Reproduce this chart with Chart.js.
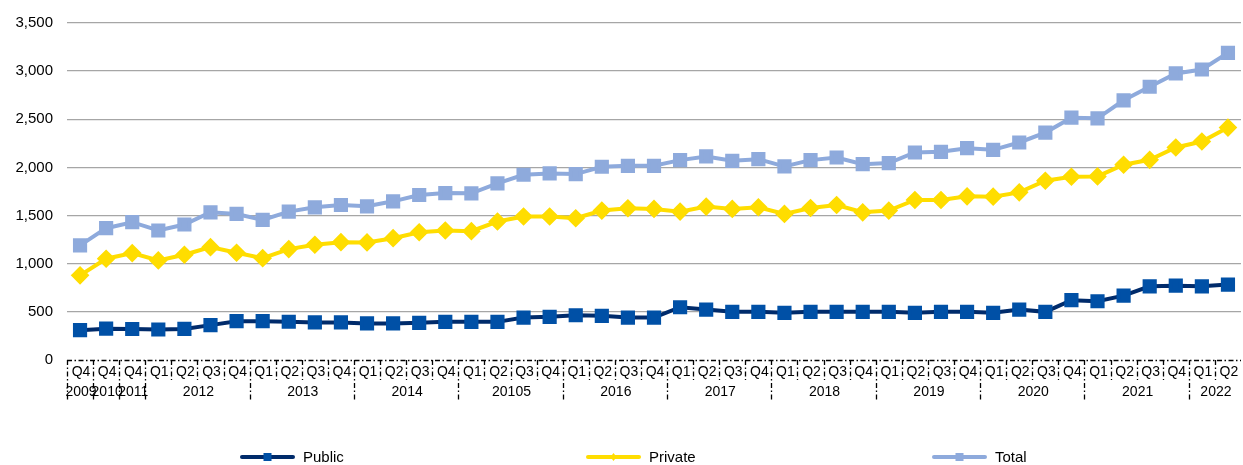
<!DOCTYPE html>
<html>
<head>
<meta charset="utf-8">
<script src="https://cdn.jsdelivr.net/npm/chart.js@4/dist/chart.umd.min.js"></script>
<style>
  html, body { margin: 0; padding: 0; background: #fff; }
  #wrap { width: 1243px; height: 465px; position: relative; }
</style>
</head>
<body>
<div id="wrap"><canvas id="c" width="1243" height="465"></canvas></div>
<script>
// ---- Data ----
const quarters = ['Q4','Q4','Q4',
  'Q1','Q2','Q3','Q4', 'Q1','Q2','Q3','Q4', 'Q1','Q2','Q3','Q4', 'Q1','Q2','Q3','Q4',
  'Q1','Q2','Q3','Q4', 'Q1','Q2','Q3','Q4', 'Q1','Q2','Q3','Q4', 'Q1','Q2','Q3','Q4',
  'Q1','Q2','Q3','Q4', 'Q1','Q2','Q3','Q4', 'Q1','Q2'];
const years = ['2009','2010','2011',
  '2012','2012','2012','2012', '2013','2013','2013','2013', '2014','2014','2014','2014',
  '20105','20105','20105','20105', '2016','2016','2016','2016', '2017','2017','2017','2017',
  '2018','2018','2018','2018', '2019','2019','2019','2019', '2020','2020','2020','2020',
  '2021','2021','2021','2021', '2022','2022'];
const publicValues = [310,325,322,317,323,362,403,403,397,390,
  390,380,380,386,396,396,396,441,448,465,
  459,441,441,548,524,500,500,490,500,500,
  500,500,490,500,500,490,524,500,621,610,
  669,765,772,765,783];
const privateValues = [879,1052,1110,1034,1093,1172,1114,1058,1152,1197,
  1224,1221,1265,1327,1345,1338,1438,1490,1490,1472,
  1552,1576,1569,1541,1593,1569,1586,1517,1579,1610,
  1534,1552,1662,1662,1700,1696,1741,1862,1903,1907,
  2028,2079,2207,2269,2414];
const totalValues = [1190,1369,1431,1345,1407,1534,1517,1455,1541,1586,
  1610,1596,1648,1714,1734,1731,1834,1924,1938,1931,
  2007,2017,2017,2076,2114,2069,2086,2010,2076,2103,
  2034,2045,2155,2162,2200,2183,2259,2362,2517,2510,
  2697,2838,2976,3017,3190];
const seriesNames = ['Public', 'Private', 'Total'];
const yTicks = [0, 500, 1000, 1500, 2000, 2500, 3000, 3500];

const labels = quarters.map((q, i) => q + ' ' + years[i]);
const FONT = '"Liberation Sans", Arial, sans-serif';

// ---- Two-level category axis plugin ----
const axisPlugin = {
  id: 'twoLevelAxis',
  afterDraw(chart) {
    const ctx = chart.ctx;
    const x = chart.scales.x;
    const area = chart.chartArea;
    const top = area.bottom;
    const shortBottom = top + 20;
    const longBottom = top + 41;
    const px = i => x.getPixelForValue(i);
    ctx.save();
    ctx.strokeStyle = '#000';
    ctx.lineWidth = 1.3;
    ctx.setLineDash([5, 2.5, 1.5, 2.5]);
    ctx.beginPath();
    ctx.moveTo(area.left, top + 0.5);
    ctx.lineTo(area.right, top + 0.5);
    ctx.stroke();
    for (let i = 0; i < quarters.length; i++) {
      const bx = i === 0 ? area.left + 0.5 : Math.round((px(i - 1) + px(i)) / 2) + 0.5;
      const isYear = i === 0 || years[i] !== years[i - 1];
      ctx.beginPath();
      ctx.moveTo(bx, top);
      ctx.lineTo(bx, isYear ? longBottom : shortBottom);
      ctx.stroke();
    }
    ctx.setLineDash([]);
    ctx.fillStyle = '#000';
    ctx.font = '14px ' + FONT;
    ctx.textAlign = 'center';
    ctx.textBaseline = 'middle';
    quarters.forEach((q, i) => ctx.fillText(q, px(i) + 1, top + 12));
    let start = 0;
    for (let i = 1; i <= years.length; i++) {
      if (i === years.length || years[i] !== years[start]) {
        const cx = (px(start) + px(i - 1)) / 2;
        ctx.fillText(years[start], cx + 1, top + 32);
        start = i;
      }
    }
    ctx.restore();
  }
};

// ---- Legend plugin (line + marker) ----
const legendPlugin = {
  id: 'lineLegend',
  afterDraw(chart) {
    const ctx = chart.ctx;
    const y = 457;
    const firstX = 240, step = 346, lineLen = 55;
    ctx.save();
    chart.data.datasets.forEach((ds, i) => {
      const x0 = firstX + i * step;
      ctx.strokeStyle = ds.borderColor;
      ctx.lineWidth = 4;
      ctx.lineCap = 'round';
      ctx.beginPath();
      ctx.moveTo(x0 + 2, y);
      ctx.lineTo(x0 + lineLen - 2, y);
      ctx.stroke();
      const cx = x0 + lineLen / 2;
      ctx.fillStyle = ds.pointBackgroundColor;
      if (ds.pointStyle === 'rectRot') {
        ctx.beginPath();
        ctx.moveTo(cx, y - 4); ctx.lineTo(cx + 3, y); ctx.lineTo(cx, y + 4); ctx.lineTo(cx - 3, y);
        ctx.closePath(); ctx.fill();
      } else {
        ctx.fillRect(cx - 4, y - 4, 8, 8);
      }
      ctx.fillStyle = '#000';
      ctx.font = '15px ' + FONT;
      ctx.textAlign = 'left';
      ctx.textBaseline = 'middle';
      ctx.fillText(ds.label, x0 + lineLen + 8, y + 1);
    });
    ctx.restore();
  }
};

new Chart(document.getElementById('c'), {
  type: 'line',
  data: {
    labels: labels,
    datasets: [
      {
        label: seriesNames[0], data: publicValues,
        borderColor: '#002B6B', backgroundColor: '#0050A6',
        pointBackgroundColor: '#0050A6', pointBorderColor: '#0050A6',
        pointStyle: 'rect', pointRadius: 7.2, borderWidth: 4, tension: 0
      },
      {
        label: seriesNames[1], data: privateValues,
        borderColor: '#FFDD00', backgroundColor: '#FFDD00',
        pointBackgroundColor: '#FFDD00', pointBorderColor: '#FFDD00',
        pointStyle: 'rectRot', pointRadius: 6.5, borderWidth: 4, tension: 0
      },
      {
        label: seriesNames[2], data: totalValues,
        borderColor: '#8EAADC', backgroundColor: '#8EAADC',
        pointBackgroundColor: '#8EAADC', pointBorderColor: '#8EAADC',
        pointStyle: 'rect', pointRadius: 7.2, borderWidth: 4, tension: 0
      }
    ]
  },
  options: {
    responsive: false,
    animation: false,
    layout: { autoPadding: false, padding: { top: 22, right: 2, left: 0, bottom: 0 } },
    plugins: { legend: { display: false }, tooltip: { enabled: false } },
    scales: {
      x: {
        type: 'category',
        offset: true,
        grid: { display: false },
        border: { display: false },
        ticks: { display: false },
        afterFit(s) { s.height = 105; }
      },
      y: {
        min: 0, max: 3500,
        afterBuildTicks(s) { s.ticks = yTicks.map(v => ({ value: v })); },
        ticks: {
          padding: 14,
          color: '#000',
          font: { family: FONT, size: 15 },
          callback: v => v.toLocaleString('en-US')
        },
        grid: {
          drawTicks: false,
          lineWidth: 1.3,
          color: c => (c.tick && c.tick.value === 0) ? 'rgba(0,0,0,0)' : '#A6A6A6'
        },
        border: { display: false },
        afterFit(s) { s.width = 67; }
      }
    }
  },
  plugins: [axisPlugin, legendPlugin]
});
</script>
</body>
</html>
